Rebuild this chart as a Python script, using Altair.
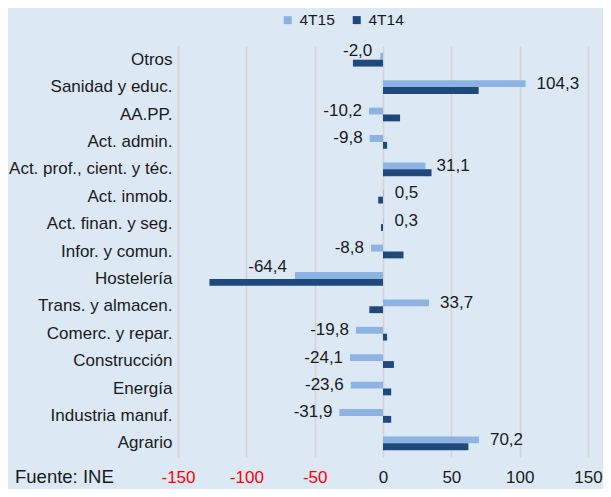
import altair as alt
import pandas as pd

categories = ["Otros", "Sanidad y educ.", "AA.PP.", "Act. admin.",
              "Act. prof., cient. y téc.", "Act. inmob.", "Act. finan. y seg.",
              "Infor. y comun.", "Hostelería", "Trans. y almacen.",
              "Comerc. y repar.", "Construcción", "Energía", "Industria manuf.",
              "Agrario"]
series_names = ["4T15", "4T14"]
v4t15 = [-2.0, 104.3, -10.2, -9.8, 31.1, 0.5, 0.3, -8.8, -64.4, 33.7,
         -19.8, -24.1, -23.6, -31.9, 70.2]
v4t14 = [-22.0, 70.0, 12.5, 3.0, 35.5, -3.5, -1.5, 15.0, -127.0, -10.0,
         3.0, 8.0, 6.0, 6.0, 62.5]
x_ticks = [-150, -100, -50, 0, 50, 100, 150]
source_note = "Fuente: INE"

rows = []
for c, a, b in zip(categories, v4t15, v4t14):
    rows.append({"cat": c, "series": "4T15", "value": a})
    rows.append({"cat": c, "series": "4T14", "value": b})
df = pd.DataFrame(rows)

FONT = "Liberation Sans"
TXT = "#1a1a1a"
GRID = "#d4d4d4"
y_enc = alt.Y("cat:N", sort=categories,
              scale=alt.Scale(paddingInner=0.5, paddingOuter=0.25),
              axis=alt.Axis(title=None, labelFontSize=17, labelColor=TXT,
                            labelFont=FONT, ticks=False, domain=True,
                            domainColor=GRID, domainWidth=1.5,
                            labelPadding=6, grid=False))
yoff = alt.YOffset("series:N", sort=series_names,
                   scale=alt.Scale(domain=series_names))
x_scale = alt.Scale(domain=[-150, 150], nice=False)

base = alt.Chart(df)

bars = base.mark_bar().encode(
    y=y_enc,
    yOffset=yoff,
    x=alt.X("value:Q", scale=x_scale,
            axis=alt.Axis(title=None, values=x_ticks, ticks=False, domain=False,
                          grid=True, gridColor=GRID, gridWidth=1.5,
                          labelFontSize=17, labelFont=FONT, labelPadding=12,
                          labelFlush=False, labelBound=False, labelOverlap=False,
                          labelExpr="'' + datum.value",
                          labelColor=alt.expr("datum.value < 0 ? '#ff0000' : '#1a1a1a'"))),
    color=alt.Color("series:N", sort=series_names,
                    scale=alt.Scale(domain=series_names, range=["#8db3e2", "#1f497d"]),
                    legend=alt.Legend(title=None, orient="none", direction="horizontal",
                                      legendX=102, legendY=-34, symbolType="square",
                                      symbolSize=64, labelFontSize=15.5, labelFont=FONT,
                                      labelColor=TXT, columnPadding=14,
                                      symbolStrokeWidth=0)),
)

lab = base.transform_filter(alt.datum.series == "4T15").transform_calculate(
    label="(datum.value < 0 ? '-' : '') + replace(format(abs(datum.value), '.1f'), '.', ',')"
)

raised = {"Otros": -5, "Hostelería": -8}
normal_filter = "indexof(%s, datum.cat) < 0" % str(list(raised.keys())).replace("'", '"')

layers = [bars]
text_enc = dict(y=alt.Y("cat:N", sort=categories), yOffset=yoff,
                x=alt.X("value:Q"), text="label:N")
layers.append(lab.transform_filter(normal_filter).transform_filter(alt.datum.value < 0)
              .mark_text(align="right", dx=-7, fontSize=17, font=FONT, color=TXT)
              .encode(**text_enc))
layers.append(lab.transform_filter(normal_filter).transform_filter(alt.datum.value >= 0)
              .mark_text(align="left", dx=11, fontSize=17, font=FONT, color=TXT)
              .encode(**text_enc))
for cat, dy in raised.items():
    layers.append(lab.transform_filter(alt.datum.cat == cat)
                  .mark_text(align="right", dx=-8, dy=dy, fontSize=17, font=FONT,
                             color=TXT)
                  .encode(**text_enc))

note = alt.Chart(pd.DataFrame({"t": [source_note]})).mark_text(
    align="left", baseline="alphabetic", fontSize=18.5, font=FONT, color=TXT
).encode(x=alt.value(-163), y=alt.value(437), text="t:N")
layers.append(note)

chart = alt.layer(*layers).properties(
    width=410, height=411,
    autosize=alt.AutoSizeParams(type="none"),
    padding={"left": 170, "top": 38, "right": 15, "bottom": 32},
    background="#dce9f5",
).configure_view(stroke=None)

chart.save("out.html", embed_options={"renderer": "svg", "actions": False})
